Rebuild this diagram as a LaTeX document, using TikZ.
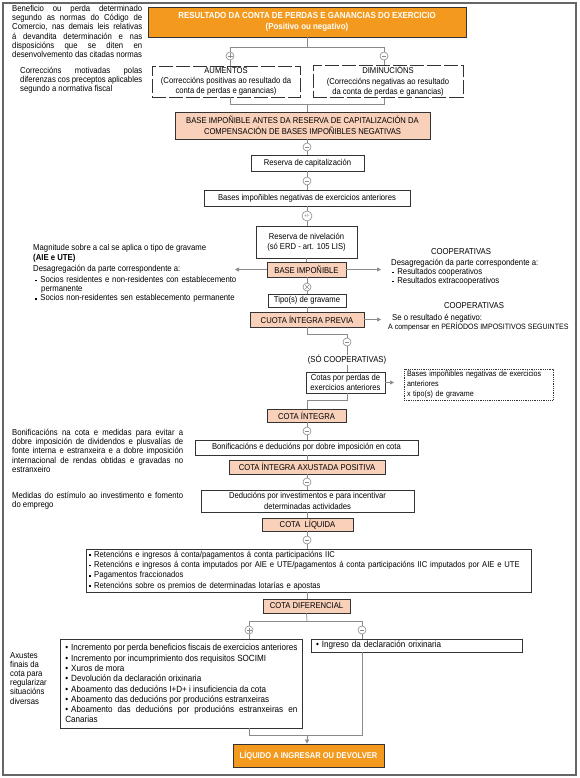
\documentclass[tikz,border=0pt]{standalone}
\usepackage{fontspec}
\setmainfont{Liberation Sans}[FakeStretch=0.9]
\usetikzlibrary{arrows.meta,calc}
\definecolor{orng}{HTML}{F39A1E}
\definecolor{peach}{HTML}{F9D0BA}
\definecolor{conng}{HTML}{8A8A8A}
\definecolor{bord}{HTML}{333333}
\newcommand{\fs}{\fontsize{8.6}{9.2}\selectfont}
\newcommand{\fb}{\fontsize{8.5}{10.4}\selectfont}
\newcommand{\sqb}{\raisebox{1.2pt}{\rule{1.7pt}{1.7pt}}\hspace{3.5pt}}
\tikzset{
 bx/.style={draw=bord, line width=0.7pt, fill=white, align=center, inner sep=1pt, font=\fb},
 pch/.style={bx, fill=peach},
 org/.style={draw=bord, line width=0.8pt, fill=orng, text=white, align=center, font=\fontsize{8.8}{11}\selectfont\bfseries, inner sep=1pt},
 conn/.style={draw=conng, line width=0.7pt},
 arr/.style={conn, -{Triangle[length=4pt,width=4pt]}},
 sgn/.style={circle, draw=conng, fill=white, line width=0.6pt, minimum size=8pt, inner sep=0pt},
 splus/.style={sgn, path picture={\draw[conng, line width=0.6pt] ($(path picture bounding box.center)+(-2.5,0)$) -- ++(5,0) ($(path picture bounding box.center)+(0,-2.5)$) -- ++(0,5);}},
 sminus/.style={sgn, path picture={\draw[conng, line width=0.6pt] ($(path picture bounding box.center)+(-2,0)$) -- ++(4,0);}},
 stimes/.style={sgn, path picture={\draw[conng, line width=0.6pt] ($(path picture bounding box.center)+(-2,-2)$) -- ++(4,4) ($(path picture bounding box.center)+(-2,2)$) -- ++(4,-4);}},
 spm/.style={sgn, minimum size=10pt, font=\fontsize{4.8}{5}\selectfont, text=conng!70!black},
 txt/.style={font=\fs, inner sep=0pt, anchor=north west},
}
\begin{document}
\hyphenpenalty=10000 \exhyphenpenalty=10000
\begin{tikzpicture}[x=1pt,y=-1pt]
\useasboundingbox (0,0) rectangle (580,778);
\draw[draw=black!60, line width=1.3pt] (3,3) rectangle (576,775);

% ---- top
\node[org, minimum width=318pt, minimum height=30pt] (top) at (307,22) {RESULTADO DA CONTA DE PERDAS E GANANCIAS DO EXERCICIO\\(Positivo ou negativo)};
\node[txt, text width=130pt, align=justify] (t1) at (12,5) {Beneficio ou perda determinado\linebreak segundo as normas do Código de\linebreak Comercio, nas demais leis relativas\linebreak á devandita determinación e nas\linebreak disposicións que se diten en\linebreak desenvolvemento das citadas normas};
\node[txt, text width=122pt, align=justify] (t2) at (20,67) {Correccións motivadas polas\linebreak diferenzas cos preceptos aplicables\linebreak segundo a normativa fiscal};

\node[splus] (p1) at (230,56) {};
\node[sminus] (m1) at (384,56) {};
\node[bx, dash pattern=on 14pt off 3pt, line width=0.9pt, minimum width=148pt, minimum height=31pt] (aum) at (226,81.5) {AUMENTOS\\(Correccións positivas ao resultado da\\conta de perdas e ganancias)};
\node[bx, dash pattern=on 14pt off 3pt, line width=0.9pt, minimum width=150pt, minimum height=31pt] (dim) at (388,81.5) {DIMINUCIÓNS\\(Correccións negativas ao resultado\\da conta de perdas e ganancias)};
\coordinate (j1) at (307,47);
\draw[conn] (top.south) -- (j1);
\draw[conn] (p1.north) -- (p1.north |- j1) -- (m1.north |- j1) -- (m1.north);
\draw[conn] (p1.south) -- (p1.south |- aum.north);
\draw[conn] (m1.south) -- (m1.south |- dim.north);

\node[pch, minimum width=255pt, minimum height=27pt] (base) at (302.5,125.5) {BASE IMPOÑIBLE ANTES DA RESERVA DE CAPITALIZACIÓN DA\\COMPENSACIÓN DE BASES IMPOÑIBLES NEGATIVAS};
\coordinate (j2) at (307,104);
\draw[conn] (aum.south -| p1) -- (p1 |- j2) -- (m1 |- j2) -- (dim.south -| m1);
\draw[conn] (j2) -- (j2 |- base.north);

% ---- main column
\node[sminus] (m2) at (307,147) {};
\node[bx, minimum width=113pt, minimum height=16pt] (res) at (307.5,163) {Reserva de capitalización};
\node[sminus] (m3) at (307,181) {};
\node[bx, minimum width=206pt, minimum height=16pt] (bases) at (307,198) {Bases impoñibles negativas de exercicios anteriores};
\node[spm] (pm) at (307,216) {+/-};
\node[bx, minimum width=101pt, minimum height=32pt] (niv) at (306.5,242) {Reserva de nivelación\\(só ERD - art. 105 LIS)};
\node[pch, minimum width=79pt, minimum height=15pt] (bi) at (306.5,269.5) {BASE IMPOÑIBLE};
\node[stimes] (x1) at (307,287) {};
\node[bx, minimum width=78pt, minimum height=13pt] (tipo) at (307,300.5) {Tipo(s) de gravame};
\node[pch, minimum width=114pt, minimum height=15pt] (cuota) at (307,319.5) {CUOTA ÍNTEGRA PREVIA};

\draw[conn] (base.south -| m2) -- (m2.north);
\draw[conn] (m2.south) -- (m2.south |- res.north);
\draw[conn] (res.south -| m3) -- (m3.north);
\draw[conn] (m3.south) -- (m3.south |- bases.north);
\draw[conn] (bases.south -| pm) -- (pm.north);
\draw[conn] (pm.south) -- (pm.south |- niv.north);
\draw[conn] (niv.south -| bi) -- (bi.north);
\draw[conn] (bi.south -| x1) -- (x1.north);
\draw[conn] (x1.south) -- (x1.south |- tipo.north);
\draw[conn] (tipo.south) -- (tipo.south |- cuota.north);

% ---- side texts around BASE IMPOÑIBLE
\coordinate (al) at (235,269.5);
\coordinate (ar) at (381,269.5);
\draw[arr] (bi.west) -- (al);
\draw[arr] (bi.east) -- (ar);
\node[txt] (lm1) at (33,244) {Magnitude sobre a cal se aplica o tipo de gravame};
\node[txt, font=\fs\bfseries] (lm2) at (33,254) {(AIE e UTE)};
\node[txt] (lm3) at (33,265) {Desagregación da parte correspondente a:};
\node[txt, text width=205pt, align=left] (lm4) at (35,276) {\hangindent=6pt\hangafter=1\sqb Socios residentes e non-residentes con establecemento permanente\par
\sqb Socios non-residentes sen establecemento permanente};
\node[txt, anchor=north] (rc1) at (461,248) {COOPERATIVAS};
\node[txt] (rc2) at (391,259) {Desagregación da parte correspondente a:};
\node[txt, align=left] (rc3) at (392,268) {\sqb Resultados cooperativos\\\sqb Resultados extracooperativos};

% ---- CUOTA side
\coordinate (ac) at (381,319.5);
\draw[arr] (cuota.east) -- (ac);
\node[txt, anchor=north] (rc4) at (474,302) {COOPERATIVAS};
\node[txt] (rc5) at (392,313.5) {Se o resultado é negativo:};
\node[txt, font=\fontsize{7.8}{9}\selectfont] (rc6) at (388,322.5) {A compensar en PERÍODOS IMPOSITIVOS SEGUINTES};

% ---- cooperativas branch
\coordinate (j3) at (307,334);
\node[sminus] (m4) at (347,342) {};
\node[txt, anchor=center] (sc) at (347,360) {(SÓ COOPERATIVAS)};
\node[bx, minimum width=79pt, minimum height=21pt] (cotas) at (345.5,382.5) {Cotas por perdas de\\exercicios anteriores};
\node[bx, draw=bord, dash pattern=on 0.8pt off 1pt, line width=0.6pt, minimum width=149pt, minimum height=31pt, text width=143pt, inner sep=2pt, align=left, font=\fontsize{7.9}{9.6}\selectfont] (dotb) at (478.5,384.5) {Bases impoñibles negativas de exercicios\\anteriores\\x tipo(s) de gravame};
\coordinate (ad) at (394,382.5);
\draw[arr] (cotas.east) -- (ad);
\draw[conn] (cuota.south) -- (j3) -| (m4.north);
\draw[conn] (m4.south) -- (m4.south |- sc.north);
\draw[conn] (sc.south) -- (sc.south |- cotas.north);

\node[pch, minimum width=79pt, minimum height=13pt] (cota) at (306.5,415.5) {COTA ÍNTEGRA};
\coordinate (j4) at (347,400);
\draw[conn] (cotas.south -| j4) -- (j4) -- (j4 -| j3) -- (cota.north -| j3);

\node[sminus] (m5) at (307,431) {};
\node[bx, minimum width=223pt, minimum height=15pt] (bon) at (306.5,447.5) {Bonificacións e deducións por dobre imposición en cota};
\node[pch, minimum width=156pt, minimum height=14pt] (axu) at (307,467) {COTA ÍNTEGRA AXUSTADA POSITIVA};
\node[sminus] (m6) at (307,482) {};
\node[bx, minimum width=213pt, minimum height=22pt] (ded) at (307.5,501) {Deducións por investimentos e para incentivar\\determinadas actividades};
\node[pch, minimum width=91pt, minimum height=13pt] (liq) at (307.5,524.5) {COTA~~LÍQUIDA};
\node[sminus] (m7) at (307,540) {};
\node[bx, minimum width=445pt, minimum height=43pt, text width=439pt, align=left] (ret) at (308.5,570.5) {\sqb Retencións e ingresos á conta/pagamentos á conta participacións IIC\\
\sqb Retencións e ingresos á conta imputados por AIE e UTE/pagamentos á conta participacións IIC imputados por AIE e UTE\\
\sqb Pagamentos fraccionados\\
\sqb Retencións sobre os premios de determinadas lotarías e apostas};
\node[pch, minimum width=87pt, minimum height=14pt] (dif) at (306.5,606) {COTA DIFERENCIAL};

\draw[conn] (cota.south -| m5) -- (m5.north);
\draw[conn] (m5.south) -- (m5.south |- bon.north);
\draw[conn] (bon.south -| axu) -- (axu.north);
\draw[conn] (axu.south) -- (m6.north);
\draw[conn] (m6.south) -- (m6.south |- ded.north);
\draw[conn] (ded.south -| m6) -- (m6 |- liq.north);
\draw[conn] (liq.south -| m7) -- (m7.north);
\draw[conn] (m7.south) -- (m7.south |- ret.north);
\draw[conn] (ret.south -| m7) -- (m7 |- dif.north);

% left notes
\node[txt, text width=171pt, align=justify] (t3) at (12,429) {Bonificacións na cota e medidas para evitar a\linebreak dobre imposición de dividendos e plusvalías de\linebreak fonte interna e estranxeira e a dobre imposición\linebreak internacional de rendas obtidas e gravadas no\linebreak estranxeiro};
\node[txt, text width=171pt, align=justify] (t4) at (12,492) {Medidas do estímulo ao investimento e fomento\linebreak do emprego};
\node[txt, align=left] (t5) at (10,652) {Axustes\\finais da\\cota para\\regularizar\\situacións\\diversas};

% ---- final split
\coordinate (j5) at (307,621);
\node[splus] (p2) at (249,630) {};
\node[sminus] (m8) at (362,630) {};
\node[bx, font=\fontsize{9}{10.3}\selectfont, minimum width=242pt, minimum height=88pt, text width=232pt, align=justify, anchor=north west, inner sep=5pt] (lbox) at (60,639) {\hangindent=7.5pt\hangafter=1\textbullet\hspace{3pt}Incremento por perda beneficios fiscais de exercicios anteriores\par
\textbullet\hspace{3pt}Incremento por incumprimiento dos requisitos SOCIMI\par
\textbullet\hspace{3pt}Xuros de mora\par
\textbullet\hspace{3pt}Devolución da declaración orixinaria\par
\textbullet\hspace{3pt}Aboamento das deducións I+D+ i insuficiencia da cota\par
\textbullet\hspace{3pt}Aboamento das deducións por producións estranxeiras\par
\hangindent=7.5pt\hangafter=1\textbullet\hspace{3pt}Aboamento das deducións por producións estranxeiras en Canarias};
\node[bx, font=\fontsize{9}{10.3}\selectfont, minimum width=211pt, minimum height=13pt, text width=201pt, align=left] (rbox) at (416.5,645.5) {\textbullet\hspace{3pt}Ingreso da declaración orixinaria};
\draw[conn] (dif.south) -- (j5);
\draw[conn] (p2.north) -- (p2.north |- j5) -- (m8.north |- j5) -- (m8.north);
\draw[conn] (p2.south) -- (p2.south |- lbox.north);
\draw[conn] (m8.south) -- (m8.south |- rbox.north);

\node[org, font=\fontsize{8.4}{9}\selectfont\bfseries, minimum width=151pt, minimum height=23pt] (fin) at (308.5,755.5) {LÍQUIDO A INGRESAR OU DEVOLVER};
\coordinate (j6) at (307,735);
\draw[conn] (lbox.south -| p2) -- (p2 |- j6) -- (m8 |- j6) -- (rbox.south -| m8);
\draw[arr] (j6) -- (j6 |- fin.north);
\end{tikzpicture}
\end{document}
